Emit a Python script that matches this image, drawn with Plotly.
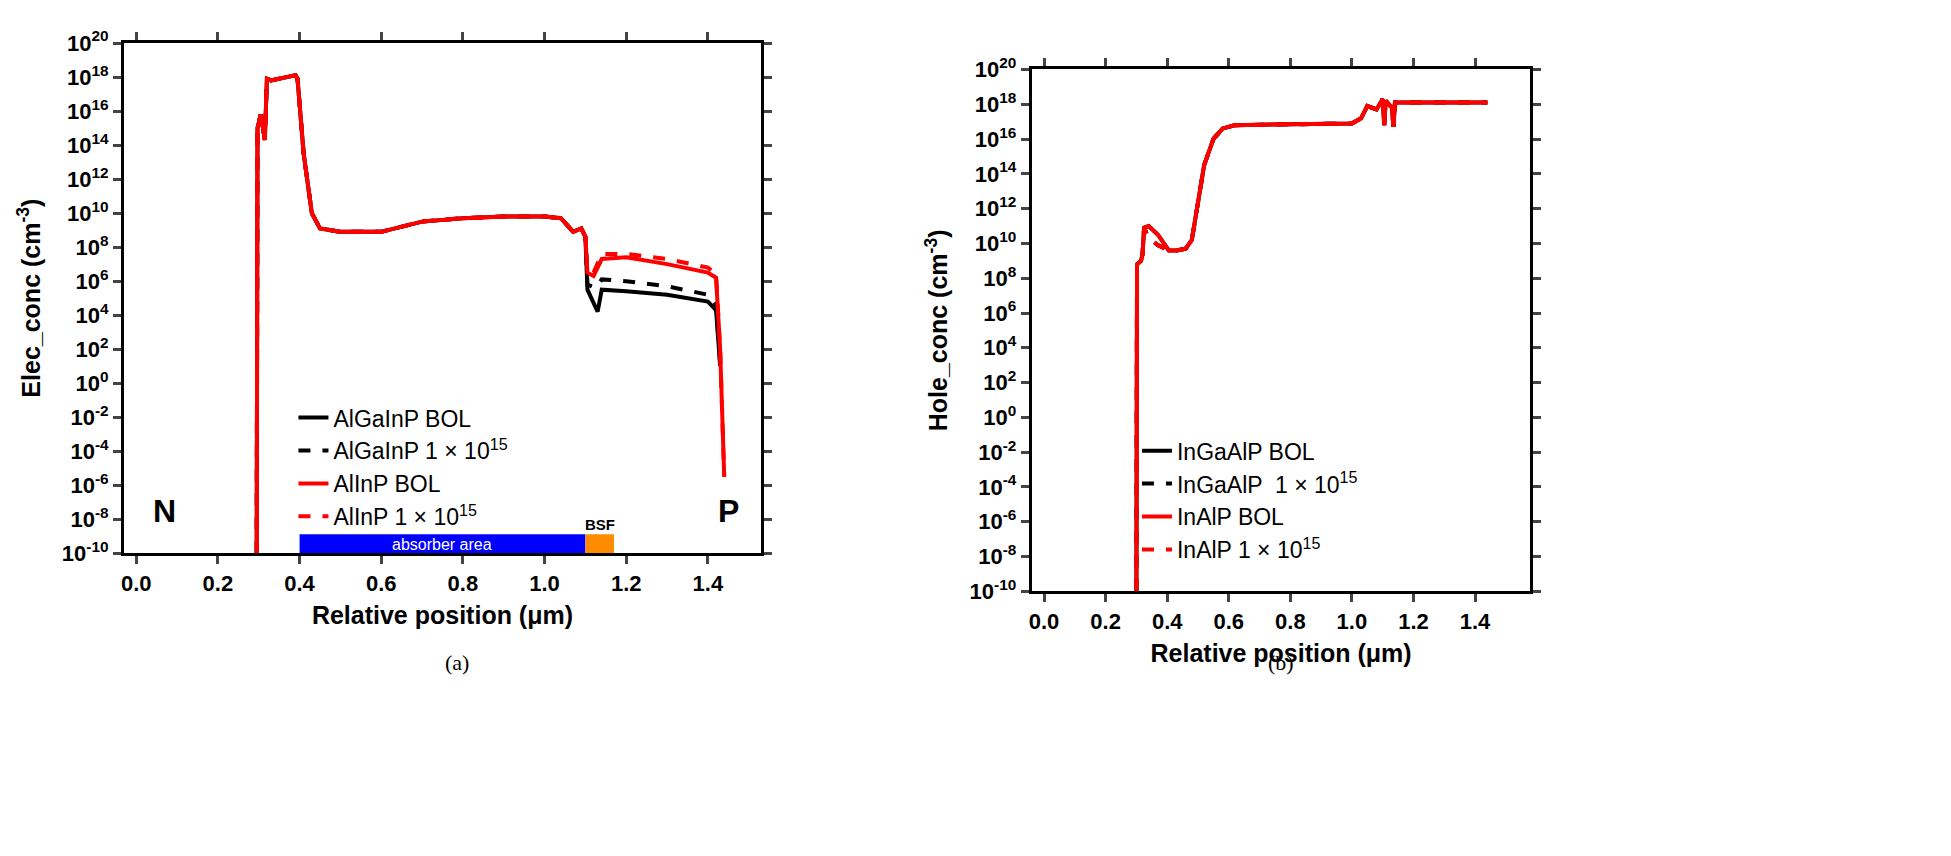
import numpy as np
import plotly.graph_objects as go

W, H = 1951, 856

# ---- panel (a): electron concentration, log10 values
xa_base = [0.295, 0.297, 0.305, 0.315, 0.32, 0.33, 0.39, 0.395, 0.41, 0.43, 0.45, 0.5, 0.6, 0.7, 0.8, 0.9, 1.0, 1.04, 1.07, 1.09, 1.1]
ya_base = [-10, 15, 15.8, 14.3, 17.9, 17.8, 18.1, 17.9, 13.5, 10.0, 9.1, 8.9, 8.9, 9.5, 9.7, 9.8, 9.8, 9.7, 8.9, 9.1, 8.6]

elec = {
    'AlGaInP BOL': (xa_base + [1.105, 1.13, 1.14, 1.2, 1.3, 1.4, 1.42, 1.43],
                    ya_base + [5.5, 4.2, 5.5, 5.4, 5.2, 4.8, 4.3, 1.0], 'black', 'solid'),
    'AlGaInP 1 × 10<sup>15</sup>': (xa_base + [1.105, 1.125, 1.14, 1.2, 1.3, 1.4, 1.42, 1.43],
                    ya_base + [5.8, 5.6, 6.1, 6.0, 5.7, 5.2, 4.6, 1.2], 'black', 'dash'),
    'AlInP BOL': (xa_base + [1.105, 1.12, 1.14, 1.2, 1.3, 1.4, 1.42, 1.43, 1.44],
                  ya_base + [6.5, 6.3, 7.3, 7.4, 7.0, 6.5, 6.2, 2.0, -5.5], 'red', 'solid'),
    'AlInP 1 × 10<sup>15</sup>': (xa_base + [1.105, 1.12, 1.14, 1.2, 1.3, 1.4, 1.42, 1.43, 1.44],
                  ya_base + [6.6, 6.5, 7.6, 7.6, 7.3, 6.8, 6.4, 2.0, -5.5], 'red', 'dash'),
}

# ---- panel (b): hole concentration
xb = [0.3, 0.3005, 0.302, 0.315, 0.32, 0.325, 0.34, 0.37, 0.39, 0.405, 0.43, 0.46, 0.48, 0.5, 0.52, 0.55, 0.58, 0.62,
      0.8, 1.0, 1.03, 1.05, 1.08, 1.1, 1.105, 1.11, 1.13, 1.135, 1.14, 1.2, 1.44]
yb = [-10, 8.8, 8.8, 9.0, 9.4, 10.9, 11.0, 10.5, 10.0, 9.6, 9.6, 9.7, 10.2, 12.5, 14.5, 16.0, 16.6, 16.8,
      16.85, 16.9, 17.2, 17.9, 17.7, 18.3, 16.8, 18.2, 17.8, 16.7, 18.1, 18.1, 18.1]
yb_irr = list(yb)
yb_irr[6], yb_irr[7], yb_irr[8] = 10.3, 9.9, 9.7

hole = {
    'InGaAlP BOL': (xb, yb, 'black', 'solid'),
    'InGaAlP  1 × 10<sup>15</sup>': (xb, yb_irr, 'black', 'dash'),
    'InAlP BOL': (xb, yb, 'red', 'solid'),
    'InAlP 1 × 10<sup>15</sup>': (xb, yb_irr, 'red', 'dash'),
}

fig = go.Figure()
for name, (x, y, c, d) in elec.items():
    fig.add_trace(go.Scatter(x=x, y=10.0 ** np.array(y), name=name, mode='lines',
                             line=dict(color=c, dash=d, width=4), legend='legend', xaxis='x', yaxis='y'))
for name, (x, y, c, d) in hole.items():
    fig.add_trace(go.Scatter(x=x, y=10.0 ** np.array(y), name=name, mode='lines',
                             line=dict(color=c, dash=d, width=4), legend='legend2', xaxis='x2', yaxis='y2'))

# absorber / BSF bars
for (x0, x1, col) in [(0.4, 1.1, 'blue'), (1.1, 1.17, '#ff8c00')]:
    fig.add_trace(go.Scatter(x=[x0, x1, x1, x0, x0], y=[1e-10, 1e-10, 1e-9 * 1.3, 1e-9 * 1.3, 1e-10],
                             fill='toself', fillcolor=col, line=dict(width=0), mode='lines',
                             showlegend=False, hoverinfo='skip', xaxis='x', yaxis='y'))

tv = [10.0 ** k for k in range(-10, 21, 2)]
tt = ['<b>10<sup>%d</sup></b>' % k for k in range(-10, 21, 2)]
font = dict(family='Liberation Sans, Arial', size=20, color='black')
common = dict(showline=True, linewidth=3, linecolor='black', mirror='ticks', ticks='outside',
              ticklen=8, tickwidth=3, tickfont=dict(family='Liberation Sans', size=22, color='black'),
              showgrid=False, zeroline=False)
xt = [0, 0.2, 0.4, 0.6, 0.8, 1.0, 1.2, 1.4]
xtt = ['<b>%.1f</b>' % v for v in xt]

fig.update_layout(
    width=W, height=H, plot_bgcolor='white', paper_bgcolor='white',
    margin=dict(l=0, r=0, t=0, b=0), font=font,
    xaxis=dict(domain=[0.058, 0.385], anchor='y', range=[-0.03, 1.53], tickvals=xt, ticktext=xtt,
               title=dict(text='<b>Relative position (μm)</b>', font=dict(size=25), standoff=12), **common),
    yaxis=dict(domain=[0.36, 0.977], anchor='x', type='log', range=[-10, 20], tickvals=tv, ticktext=tt,
               title=dict(text='<b>Elec_conc (cm<sup>-3</sup>)</b>', font=dict(size=25)), **common),
    xaxis2=dict(domain=[0.524, 0.78], anchor='y2', range=[-0.04, 1.58], tickvals=xt, ticktext=xtt,
                title=dict(text='<b>Relative position (μm)</b>', font=dict(size=25), standoff=12), **common),
    yaxis2=dict(domain=[0.314, 0.945], anchor='x2', type='log', range=[-10, 20], tickvals=tv, ticktext=tt,
                title=dict(text='<b>Hole_conc (cm<sup>-3</sup>)</b>', font=dict(size=25)), **common),
    legend=dict(x=0.145, y=0.55, xanchor='left', yanchor='top', bgcolor='rgba(0,0,0,0)',
                font=dict(family='Liberation Sans', size=23), tracegroupgap=0),
    legend2=dict(x=0.578, y=0.51, xanchor='left', yanchor='top', bgcolor='rgba(0,0,0,0)',
                 font=dict(family='Liberation Sans', size=23), tracegroupgap=0),
)

fig.add_annotation(x=0.07, y=np.log10(3e-8), xref='x', yref='y', text='<b>N</b>', showarrow=False,
                   font=dict(size=32, color='black'))
fig.add_annotation(x=1.45, y=np.log10(3e-8), xref='x', yref='y', text='<b>P</b>', showarrow=False,
                   font=dict(size=32, color='black'))
fig.add_annotation(x=0.75, y=np.log10(3.5e-10), xref='x', yref='y', text='absorber area', showarrow=False,
                   font=dict(size=16, color='white'))
fig.add_annotation(x=1.135, y=np.log10(5e-9), xref='x', yref='y', text='<b>BSF</b>', showarrow=False,
                   font=dict(size=15, color='black'))
fig.add_annotation(x=0.222, y=0.228, xref='paper', yref='paper', text='(a)', showarrow=False,
                   yanchor='middle', font=dict(family='Liberation Serif', size=22, color='black'))
fig.add_annotation(x=0.652, y=0.228, xref='paper', yref='paper', text='(b)', showarrow=False,
                   yanchor='middle', font=dict(family='Liberation Serif', size=22, color='black'))

fig.write_html("out.html")
